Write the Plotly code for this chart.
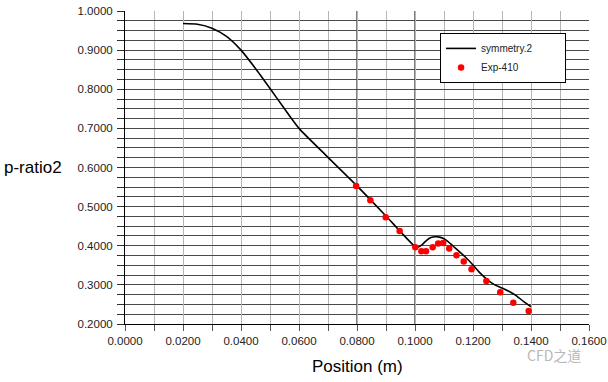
import plotly.graph_objects as go

# Simulation curve (symmetry.2)
sim_x = [0.020, 0.025, 0.030, 0.035, 0.040, 0.045, 0.050, 0.055, 0.060,
         0.070, 0.080, 0.090, 0.100, 0.1010, 0.1025, 0.1040, 0.1055, 0.1070,
         0.1085, 0.1100, 0.1115, 0.1130, 0.1150, 0.1175, 0.1200, 0.1225,
         0.1250, 0.1275, 0.1300, 0.1325, 0.1350, 0.1375, 0.1400]
sim_y = [0.968, 0.966, 0.956, 0.935, 0.900, 0.853, 0.802, 0.750, 0.700,
         0.626, 0.553, 0.476, 0.398, 0.396, 0.403, 0.414, 0.421, 0.423,
         0.422, 0.418, 0.410, 0.400, 0.387, 0.370, 0.351, 0.330,
         0.313, 0.300, 0.292, 0.283, 0.272, 0.257, 0.244]

# Experimental points (Exp-410)
exp_x = [0.0797, 0.0846, 0.0899, 0.0947, 0.1001, 0.1022, 0.1038, 0.1061, 0.1080,
         0.1097, 0.1118, 0.1143, 0.1168, 0.1195, 0.1246, 0.1294, 0.1339, 0.1392]
exp_y = [0.553, 0.516, 0.473, 0.438, 0.396, 0.386, 0.386, 0.396, 0.406,
         0.407, 0.393, 0.376, 0.360, 0.340, 0.310, 0.281, 0.254, 0.233]

dark_vlines = [0.08, 0.10]

FONT = "Liberation Sans, Arial, sans-serif"
PAD = "\u00a0" * 10

fig = go.Figure()
fig.add_trace(go.Scatter(x=sim_x, y=sim_y, mode="lines", name="symmetry.2" + PAD,
                         line=dict(color="black", width=1.6, shape="spline", smoothing=0.6)))
fig.add_trace(go.Scatter(x=exp_x, y=exp_y, mode="markers", name="Exp-410",
                         marker=dict(color="#ff0000", size=6.5, symbol="circle")))

for xv in dark_vlines:
    fig.add_shape(type="line", x0=xv, x1=xv, y0=0.2, y1=1.0, xref="x", yref="y",
                  line=dict(color="black", width=1), layer="below")

fig.update_layout(
    width=608, height=382,
    margin=dict(l=125, r=19, t=11, b=58, autoexpand=False),
    paper_bgcolor="white", plot_bgcolor="white",
    font=dict(family=FONT, size=11.5, color="#222222"),
    showlegend=True,
    legend=dict(x=0.679, y=0.93, xanchor="left", yanchor="top",
                bgcolor="white", bordercolor="black", borderwidth=1,
                font=dict(family=FONT, size=10, color="#222"),
                itemwidth=30, tracegroupgap=0),
    xaxis=dict(range=[0, 0.16], dtick=0.02, tick0=0, tickformat=".4f",
               automargin=False,
               showgrid=True, gridcolor="#b4b4b4", gridwidth=1,
               minor=dict(dtick=0.01, showgrid=True, gridcolor="#b4b4b4",
                          ticks="outside", ticklen=6, tickcolor="#555"),
               ticks="outside", ticklen=6, tickcolor="#555",
               showline=True, linecolor="black", linewidth=1,
               zeroline=False, tickfont=dict(size=11.5, family=FONT)),
    yaxis=dict(range=[0.2, 1.0], dtick=0.1, tick0=0.2, tickformat=".4f",
               automargin=False,
               showgrid=True, gridcolor="#4a4a4a", gridwidth=1,
               minor=dict(dtick=0.025, showgrid=True, gridcolor="#4a4a4a",
                          ticks="outside", ticklen=7, tickcolor="#333"),
               ticks="outside", ticklen=7, tickcolor="#333",
               ticklabelstandoff=2,
               showline=True, linecolor="black", linewidth=1,
               zeroline=False, tickfont=dict(size=11.5, family=FONT)),
    annotations=[
        dict(text="p-ratio2", xref="paper", yref="paper", x=-0.265, y=0.50,
             xanchor="left", yanchor="middle", showarrow=False,
             font=dict(family=FONT, size=17, color="black")),
        dict(text="Position (m)", xref="paper", yref="paper", x=0.5, y=-0.137,
             xanchor="center", yanchor="middle", showarrow=False,
             font=dict(family=FONT, size=17, color="black")),
        dict(text="CFD之道", xref="paper", yref="paper", x=0.925, y=-0.099,
             xanchor="center", yanchor="middle", showarrow=False,
             font=dict(family="Noto Sans CJK SC, sans-serif", size=14, color="#b8b8b8")),
    ],
)

fig.write_html("out.html", config={"displayModeBar": False},
               post_script="document.body.style.margin='0';document.body.style.overflow='hidden';")
